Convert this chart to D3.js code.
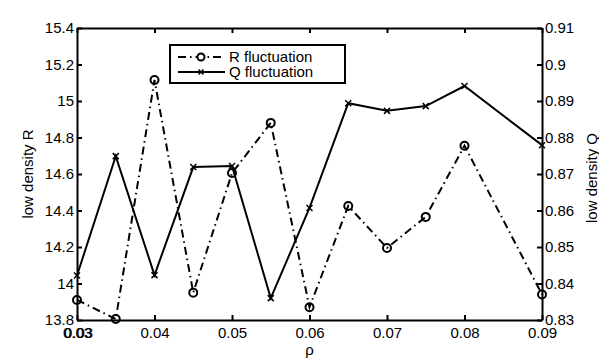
<!DOCTYPE html>
<html>
<head>
<meta charset="utf-8">
<script src="https://cdn.jsdelivr.net/npm/d3@7"></script>
<style>
  html, body { margin: 0; padding: 0; background: #fff; }
  svg { display: block; font-family: "Liberation Sans", Arial, sans-serif; }
  .axis text { font-size: 15px; font-family: "Liberation Sans", Arial, sans-serif; fill: #000; }
</style>
</head>
<body>
<div id="chart"></div>
<script>
const rhoValues = [0.03, 0.035, 0.04, 0.045, 0.05, 0.055, 0.06, 0.065, 0.07, 0.075, 0.08, 0.09];
const rFluctuation = [13.91, 13.805, 15.115, 13.95, 14.605, 14.88, 13.87, 14.425, 14.195, 14.365, 14.755, 13.94];
const qFluctuation = [0.8422, 0.8749, 0.8423, 0.8719, 0.8722, 0.836, 0.8607, 0.8894, 0.8873, 0.8886, 0.8941, 0.8779];

const xTicks = [0.03, 0.04, 0.05, 0.06, 0.07, 0.08, 0.09];
const leftTicks = [13.8, 14, 14.2, 14.4, 14.6, 14.8, 15, 15.2, 15.4];
const rightTicks = [0.83, 0.84, 0.85, 0.86, 0.87, 0.88, 0.89, 0.9, 0.91];

const width = 599;
const height = 360;
const margin = { top: 28, right: 57, bottom: 40, left: 77 };
const innerWidth = width - margin.left - margin.right;
const innerHeight = height - margin.top - margin.bottom;

const svg = d3.select("#chart")
  .append("svg")
  .attr("width", width)
  .attr("height", height);

const g = svg.append("g")
  .attr("transform", `translate(${margin.left},${margin.top})`);

const x = d3.scaleLinear().domain([0.03, 0.09]).range([0, innerWidth]);
const yLeft = d3.scaleLinear().domain([13.8, 15.4]).range([innerHeight, 0]);
const yRight = d3.scaleLinear().domain([0.83, 0.91]).range([innerHeight, 0]);

const fmtLeft = (d) => d3.format("")(+d.toFixed(1));
const fmtRight = (d) => d3.format("")(+d.toFixed(2));

// axes, ticks pointing inward like matlab
g.append("g")
  .attr("class", "axis")
  .attr("transform", `translate(0,${innerHeight})`)
  .call(d3.axisBottom(x).tickValues(xTicks).tickFormat(d3.format("")).tickSizeInner(-5).tickSizeOuter(0).tickPadding(7));

g.append("g")
  .attr("class", "axis")
  .call(d3.axisTop(x).tickValues(xTicks).tickFormat("").tickSizeInner(-5).tickSizeOuter(0));

g.append("g")
  .attr("class", "axis")
  .call(d3.axisLeft(yLeft).tickValues(leftTicks).tickFormat(fmtLeft).tickSizeInner(-5).tickSizeOuter(0).tickPadding(3));

g.append("g")
  .attr("class", "axis")
  .attr("transform", `translate(${innerWidth},0)`)
  .call(d3.axisRight(yRight).tickValues(rightTicks).tickFormat(fmtRight).tickSizeInner(-5).tickSizeOuter(0).tickPadding(3));

g.selectAll(".axis path, .axis line")
  .attr("stroke", "#000")
  .attr("stroke-width", 2);

// the double-printed first x label (both axes print it)
g.append("text")
  .attr("x", x(0.03) + 1.5)
  .attr("y", innerHeight + 7)
  .attr("dy", "0.71em")
  .attr("text-anchor", "middle")
  .attr("font-size", 15)
  .text("0.03");

// R series (left axis), dash-dot with circles
const rPoints = rhoValues.map((rho, i) => ({ rho, value: rFluctuation[i] }));
const qPoints = rhoValues.map((rho, i) => ({ rho, value: qFluctuation[i] }));

g.append("path")
  .datum(rPoints)
  .attr("fill", "none")
  .attr("stroke", "#000")
  .attr("stroke-width", 2)
  .attr("stroke-dasharray", "8,4,1.5,4")
  .attr("d", d3.line().x((d) => x(d.rho)).y((d) => yLeft(d.value)));

g.selectAll(".r-mark")
  .data(rPoints)
  .join("circle")
  .attr("class", "r-mark")
  .attr("cx", (d) => x(d.rho))
  .attr("cy", (d) => yLeft(d.value))
  .attr("r", 4)
  .attr("fill", "none")
  .attr("stroke", "#000")
  .attr("stroke-width", 2);

// Q series (right axis), solid with x marks
g.append("path")
  .datum(qPoints)
  .attr("fill", "none")
  .attr("stroke", "#000")
  .attr("stroke-width", 2)
  .attr("d", d3.line().x((d) => x(d.rho)).y((d) => yRight(d.value)));

const xMark = (cx, cy, s) => `M${cx - s},${cy - s}L${cx + s},${cy + s}M${cx - s},${cy + s}L${cx + s},${cy - s}`;

g.selectAll(".q-mark")
  .data(qPoints)
  .join("path")
  .attr("class", "q-mark")
  .attr("d", (d) => xMark(x(d.rho), yRight(d.value), 3))
  .attr("stroke", "#000")
  .attr("stroke-width", 1.5);

// axis titles
svg.append("text")
  .attr("transform", `translate(33,${margin.top + innerHeight / 2}) rotate(-90)`)
  .attr("text-anchor", "middle")
  .attr("font-size", 15)
  .text("low density R");

svg.append("text")
  .attr("transform", `translate(597,${margin.top + innerHeight / 2 + 4}) rotate(-90)`)
  .attr("text-anchor", "middle")
  .attr("font-size", 15)
  .text("low density Q");

svg.append("text")
  .attr("x", margin.left + innerWidth / 2)
  .attr("y", 355)
  .attr("text-anchor", "middle")
  .attr("font-size", 15)
  .text("ρ");

// legend
const legend = svg.append("g").attr("transform", "translate(170,45)");
legend.append("rect")
  .attr("width", 175)
  .attr("height", 38)
  .attr("fill", "#fff")
  .attr("stroke", "#000")
  .attr("stroke-width", 2);

const legendRows = [
  { label: "R fluctuation", dash: "8,4,1.5,4", marker: "circle" },
  { label: "Q fluctuation", dash: null, marker: "x" }
];

legendRows.forEach((row, i) => {
  const ly = 12 + i * 15;
  legend.append("line")
    .attr("x1", 8).attr("x2", 55)
    .attr("y1", ly).attr("y2", ly)
    .attr("stroke", "#000")
    .attr("stroke-width", 2)
    .attr("stroke-dasharray", row.dash);
  if (row.marker === "circle") {
    legend.append("circle")
      .attr("cx", 31).attr("cy", ly).attr("r", 3.5)
      .attr("fill", "#fff").attr("stroke", "#000").attr("stroke-width", 2);
  } else {
    legend.append("path")
      .attr("d", xMark(31, ly, 2.5))
      .attr("stroke", "#000").attr("stroke-width", 1.5);
  }
  legend.append("text")
    .attr("x", 59)
    .attr("y", ly)
    .attr("dy", "0.35em")
    .attr("font-size", 15)
    .text(row.label);
});
</script>
</body>
</html>
